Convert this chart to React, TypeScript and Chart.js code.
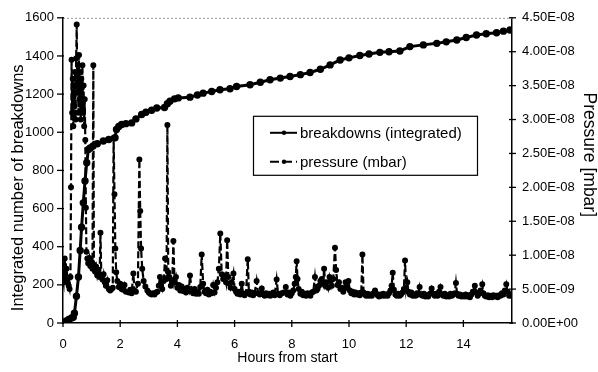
import { useEffect, useRef } from "react";
import { Chart, registerables } from "chart.js";

Chart.register(...registerables);

// Integrated number of breakdowns (left axis)
const breakdownHours = [0, 0.1, 0.2, 0.3, 0.36, 0.4, 0.47, 0.54, 0.6, 0.65, 0.71, 0.77, 0.83, 0.89, 0.95, 1.05, 1.2, 1.41, 1.6, 1.82, 1.87, 1.95, 2.05, 2.2, 2.4, 2.55, 2.75, 2.9, 3.1, 3.28, 3.55, 3.65, 3.74, 3.9, 4.03, 4.44, 4.7, 4.9, 5.2, 5.49, 5.84, 6.07, 6.54, 6.9, 7.24, 7.6, 7.94, 8.3, 8.64, 9.0, 9.34, 9.69, 10.0, 10.38, 10.7, 11.08, 11.4, 11.78, 12.13, 12.6, 13.07, 13.4, 13.77, 14.1, 14.46, 14.8, 15.16, 15.4, 15.63];
const breakdownCounts = [0, 10, 18, 26, 30, 51, 140, 241, 380, 502, 630, 745, 840, 910, 918, 928, 940, 954, 962, 971, 1015, 1030, 1041, 1045, 1049, 1070, 1093, 1105, 1115, 1127, 1130, 1150, 1163, 1175, 1180, 1184, 1195, 1205, 1214, 1223, 1228, 1240, 1249, 1262, 1275, 1284, 1292, 1302, 1313, 1330, 1353, 1379, 1390, 1402, 1410, 1419, 1422, 1426, 1449, 1458, 1466, 1474, 1484, 1497, 1510, 1516, 1522, 1530, 1536];

// Pressure (right axis), values in units of 1E-09 mbar
const pressureHours = [
  0, 0.02, 0.04, 0.06, 0.08, 0.1, 0.12, 0.14, 0.17, 0.2, 0.23, 0.26, 0.28, 0.3, 0.32, 0.34, 0.36, 0.38, 0.4, 0.42,
  0.44, 0.46, 0.48, 0.5, 0.52, 0.54, 0.56, 0.58, 0.6, 0.62, 0.64, 0.66, 0.68, 0.7, 0.72, 0.74, 0.76, 0.78, 0.8, 0.82,
  0.85, 0.88, 0.92, 0.96, 1.0, 1.03, 1.06, 1.08, 1.12, 1.16, 1.2, 1.24, 1.28, 1.31, 1.34, 1.38, 1.42, 1.46, 1.5, 1.55,
  1.6, 1.65, 1.7, 1.74, 1.77, 1.8, 1.83, 1.86, 1.9, 1.95, 2.0, 2.05, 2.1, 2.15, 2.2, 2.3, 2.35, 2.4, 2.46, 2.5,
  2.55, 2.62, 2.67, 2.7, 2.73, 2.77, 2.82, 2.88, 2.95, 3.0, 3.05, 3.1, 3.15, 3.2, 3.25, 3.3, 3.35, 3.39, 3.43, 3.47,
  3.52, 3.57, 3.62, 3.65, 3.68, 3.72, 3.77, 3.82, 3.86, 3.9, 3.95, 4.0, 4.05, 4.1, 4.15, 4.2, 4.25, 4.3, 4.35, 4.4,
  4.44, 4.5, 4.55, 4.6, 4.65, 4.7, 4.75, 4.8, 4.85, 4.9, 4.95, 5.0, 5.05, 5.1, 5.15, 5.2, 5.25, 5.3, 5.35, 5.4,
  5.45, 5.5, 5.55, 5.6, 5.65, 5.7, 5.74, 5.78, 5.82, 5.86, 5.9, 5.96, 6.0, 6.05, 6.1, 6.15, 6.2, 6.25, 6.3, 6.35,
  6.4, 6.46, 6.5, 6.55, 6.6, 6.65, 6.7, 6.77, 6.82, 6.88, 6.95, 7.0, 7.05, 7.1, 7.15, 7.2, 7.25, 7.3, 7.35, 7.4,
  7.47, 7.52, 7.58, 7.65, 7.72, 7.79, 7.85, 7.9, 7.95, 8.0, 8.05, 8.1, 8.14, 8.17, 8.2, 8.24, 8.3, 8.35, 8.4, 8.45,
  8.5, 8.55, 8.6, 8.65, 8.7, 8.75, 8.81, 8.86, 8.9, 8.95, 9.0, 9.05, 9.1, 9.13, 9.17, 9.22, 9.27, 9.32, 9.36, 9.4,
  9.45, 9.51, 9.55, 9.6, 9.65, 9.7, 9.75, 9.8, 9.88, 9.93, 9.98, 10.03, 10.08, 10.13, 10.18, 10.23, 10.28, 10.33, 10.38, 10.43,
  10.47, 10.51, 10.56, 10.6, 10.65, 10.7, 10.75, 10.8, 10.86, 10.91, 10.96, 11.0, 11.05, 11.1, 11.15, 11.2, 11.25, 11.3, 11.35, 11.4,
  11.45, 11.49, 11.53, 11.57, 11.62, 11.67, 11.72, 11.77, 11.82, 11.87, 11.92, 11.96, 12.0, 12.04, 12.08, 12.13, 12.18, 12.23, 12.28, 12.33,
  12.38, 12.42, 12.47, 12.52, 12.57, 12.62, 12.67, 12.72, 12.77, 12.83, 12.89, 12.94, 13.0, 13.05, 13.1, 13.15, 13.2, 13.25, 13.3, 13.35,
  13.4, 13.45, 13.5, 13.55, 13.6, 13.65, 13.7, 13.74, 13.78, 13.83, 13.88, 13.93, 13.98, 14.03, 14.08, 14.13, 14.18, 14.23, 14.28, 14.33,
  14.4, 14.45, 14.5, 14.55, 14.6, 14.66, 14.7, 14.75, 14.8, 14.85, 14.9, 14.95, 15.0, 15.05, 15.1, 15.15, 15.2, 15.25, 15.3, 15.35,
  15.4, 15.45, 15.5, 15.55, 15.6, 15.65, 15.7,
];
const pressureNano = [
  6.5, 6.0, 8.5, 9.5, 7.2, 6.3, 8.0, 6.4, 5.9, 5.5, 5.0, 6.8, 20, 38.8, 31, 36, 29, 35, 32, 37,
  30, 39, 44, 34, 38, 31, 39.5, 33, 37, 30, 36, 32, 38, 31, 35, 29, 33, 27, 17, 10.5,
  9.5, 8.8, 9.6, 8.4, 9.0, 8.0, 38, 8.6, 7.6, 8.3, 7.0, 7.8, 6.8, 13.3, 7.0, 6.4, 7.2, 6.0, 5.5, 6.3,
  5.0, 4.8, 5.0, 5.2, 27.3, 19, 11, 7.5, 6.2, 5.3, 5.8, 5.0, 4.9, 5.6, 4.6, 4.5, 4.9, 4.4, 7.3, 4.8,
  4.6, 5.8, 24.1, 16.5, 11, 8, 6.2, 5.4, 4.8, 4.5, 4.3, 4.2, 4.4, 4.2, 4.5, 4.6, 5.5, 6.8, 5.5, 5.0,
  6.2, 9.5, 6.5, 29.2, 7.5, 6.8, 5.5, 6.0, 12.1, 6.0, 6.8, 5.2, 5.6, 4.8, 5.4, 4.7, 5.0, 4.5, 5.2, 4.7,
  7.0, 4.8, 4.4, 5.0, 4.3, 4.6, 4.3, 5.3, 10.1, 5.8, 4.6, 4.4, 4.9, 4.2, 4.6, 4.4, 5.6, 4.5, 5.2, 6.0,
  8.0, 13.2, 7.2, 6.5, 7.0, 6.0, 12.2, 6.8, 5.8, 5.2, 6.0, 7.3, 5.0, 4.6, 4.3, 4.6, 4.2, 5.8, 4.3, 4.1,
  4.4, 9.4, 4.6, 4.2, 4.5, 4.1, 4.4, 6.2, 4.4, 4.2, 5.1, 4.3, 4.0, 4.4, 4.1, 4.3, 4.0, 4.2, 4.5, 4.1,
  6.4, 4.3, 4.1, 4.4, 4.5, 5.3, 4.2, 4.5, 4.0, 4.4, 4.8, 5.8, 6.8, 9.1, 6.5, 5.0, 4.3, 4.6, 4.1, 4.3,
  4.0, 4.4, 4.2, 4.0, 4.5, 4.6, 6.8, 4.8, 5.0, 5.5, 6.2, 6.5, 5.8, 8.0, 5.5, 6.0, 5.2, 6.8, 6.2, 5.5,
  6.5, 11.1, 7.8, 5.6, 6.0, 5.0, 5.2, 4.6, 6.0, 5.2, 6.2, 4.8, 4.4, 4.6, 4.2, 4.5, 4.2, 4.4, 4.1, 4.5,
  10.1, 4.5, 4.2, 4.0, 4.3, 4.0, 4.2, 4.0, 4.4, 4.8, 4.3, 4.1, 3.9, 4.2, 4.0, 4.3, 4.0, 4.2, 4.0, 4.4,
  4.8, 5.5, 7.4, 4.9, 4.2, 4.0, 4.3, 4.0, 4.2, 4.5, 5.0, 9.2, 5.0, 6.0, 4.6, 4.2, 4.5, 4.0, 4.2, 4.0,
  4.4, 4.2, 5.3, 4.2, 4.0, 4.3, 3.9, 4.1, 3.9, 4.3, 5.1, 4.3, 4.0, 4.3, 4.0, 4.6, 5.3, 4.2, 4.0, 4.3,
  3.9, 4.1, 3.9, 4.3, 4.0, 4.2, 4.4, 5.9, 4.3, 4.0, 4.2, 3.9, 4.1, 3.9, 4.2, 3.9, 4.1, 3.8, 4.2, 4.6,
  5.5, 4.5, 4.0, 4.3, 4.8, 5.7, 4.4, 4.0, 3.9, 4.1, 3.8, 4.0, 3.8, 4.1, 3.9, 4.0, 3.8, 4.1, 4.0, 4.4,
  4.2, 4.8, 5.7, 4.6, 4.0, 4.2, 4.0,
];

const seriesLabels = ["breakdowns (integrated)", "pressure (mbar)"];
const xTitle = "Hours from start";
const leftTitle = "Integrated number of breakdowns";
const rightTitle = "Pressure [mbar]";

function sci(nano: number): string {
  if (nano === 0) return "0.00E+00";
  const s = (nano * 1e-9).toExponential(2);
  const [m, e] = s.split("e");
  const n = parseInt(e, 10);
  const sign = n < 0 ? "-" : "+";
  const abs = Math.abs(n);
  return m + "E" + sign + (abs < 10 ? "0" + abs : String(abs));
}

function pairs(xs: number[], ys: number[]) {
  const n = Math.min(xs.length, ys.length);
  const out: { x: number; y: number }[] = [];
  for (let i = 0; i < n; i++) out.push({ x: xs[i], y: ys[i] });
  return out;
}

export default function App() {
  const ref = useRef<HTMLCanvasElement>(null);

  useEffect(() => {
    document.body.style.margin = "0";
    const family = "'Liberation Sans', Arial, Helvetica, sans-serif";
    Chart.defaults.font.family = family;
    Chart.defaults.color = "#000";

    const decor = {
      id: "decor",
      afterDraw(chart: any) {
        const { ctx, chartArea: a, scales } = chart;
        ctx.save();
        // top plot-area border (faint dotted)
        ctx.strokeStyle = "#9a9a9a";
        ctx.lineWidth = 1;
        ctx.setLineDash([2, 2]);
        ctx.beginPath();
        ctx.moveTo(a.left, a.top + 0.5);
        ctx.lineTo(a.right, a.top + 0.5);
        ctx.stroke();
        ctx.setLineDash([]);
        // tick marks
        ctx.strokeStyle = "#000";
        ctx.lineWidth = 1.3;
        const seg = (x1: number, y1: number, x2: number, y2: number) => {
          ctx.beginPath();
          ctx.moveTo(x1, y1);
          ctx.lineTo(x2, y2);
          ctx.stroke();
        };
        scales.x.ticks.forEach((t: any) => {
          const px = scales.x.getPixelForValue(t.value);
          seg(px, a.bottom - 3, px, a.bottom + 4);
        });
        scales.y.ticks.forEach((t: any) => {
          const py = scales.y.getPixelForValue(t.value);
          seg(a.left - 6, py, a.left + 1, py);
        });
        scales.y1.ticks.forEach((t: any) => {
          const py = scales.y1.getPixelForValue(t.value);
          seg(a.right - 3, py, a.right + 4, py);
        });
        // vertical axis titles
        ctx.fillStyle = "#000";
        ctx.textAlign = "center";
        ctx.textBaseline = "middle";
        ctx.save();
        ctx.translate(18, a.top + 170);
        ctx.rotate(-Math.PI / 2);
        ctx.font = "16.5px " + family;
        ctx.fillText(leftTitle, 0, 0);
        ctx.restore();
        ctx.save();
        ctx.translate(589, a.top + 137);
        ctx.rotate(Math.PI / 2);
        ctx.font = "17.5px " + family;
        ctx.fillText(rightTitle, 0, 0);
        ctx.restore();
        // legend box
        const bx = a.left + 190;
        const by = a.top + 98;
        const bw = 224;
        const bh = 59;
        ctx.fillStyle = "#fff";
        ctx.fillRect(bx, by, bw, bh);
        ctx.strokeStyle = "#000";
        ctx.lineWidth = 1.2;
        ctx.strokeRect(bx + 0.5, by + 0.5, bw, bh);
        ctx.font = "15px " + family;
        ctx.fillStyle = "#000";
        ctx.textBaseline = "middle";
        ctx.textAlign = "left";
        const rows = [by + 17, by + 46];
        rows.forEach((ry, i) => {
          ctx.lineWidth = 2;
          if (i === 1) ctx.setLineDash([9, 4]);
          seg(bx + 17, ry, bx + 44, ry);
          ctx.setLineDash([]);
          ctx.beginPath();
          ctx.arc(bx + 31, ry, 2.2, 0, Math.PI * 2);
          ctx.fill();
          ctx.fillText(seriesLabels[i], bx + 47, ry + 1);
        });
        ctx.restore();
      },
    };

    const chart = new Chart(ref.current!, {
      type: "line",
      data: {
        datasets: [
          {
            label: seriesLabels[0],
            data: pairs(breakdownHours, breakdownCounts),
            yAxisID: "y",
            borderColor: "#000",
            backgroundColor: "#000",
            borderWidth: 3,
            pointRadius: 2.2,
            pointStyle: "circle",
            tension: 0,
          },
          {
            label: seriesLabels[1],
            data: pairs(pressureHours, pressureNano),
            yAxisID: "y1",
            borderColor: "#000",
            backgroundColor: "#000",
            borderWidth: 2.2,
            borderDash: [7, 3],
            pointRadius: 1.9,
            tension: 0,
          },
        ],
      },
      options: {
        animation: false,
        responsive: true,
        maintainAspectRatio: false,
        parsing: false,
        layout: { padding: { top: 15, left: 0, right: 0, bottom: 0 } },
        plugins: { legend: { display: false }, tooltip: { enabled: false } },
        scales: {
          x: {
            type: "linear",
            min: 0,
            max: 15.7,
            grid: { display: false, drawTicks: false },
            border: { display: true, color: "#000", width: 1.5 },
            ticks: { stepSize: 2, includeBounds: false, padding: 14, font: { size: 13 }, maxRotation: 0, callback: (v: any) => String(v) },
            title: { display: true, text: xTitle, font: { size: 14 }, padding: { top: 0, bottom: 5 } },
            afterFit: (s: any) => { s.height = 49; },
          },
          y: {
            type: "linear",
            position: "left",
            min: 0,
            max: 1600,
            grid: { display: false, drawTicks: false },
            border: { display: true, color: "#000", width: 1.5 },
            ticks: { stepSize: 200, padding: 9, font: { size: 13 }, callback: (v: any) => String(v) },
            afterFit: (s: any) => { s.width = 63; },
          },
          y1: {
            type: "linear",
            position: "right",
            min: 0,
            max: 45,
            grid: { display: false, drawTicks: false },
            border: { display: true, color: "#000", width: 1.5 },
            ticks: { stepSize: 5, padding: 10, font: { size: 13 }, callback: (v: any) => sci(Number(v)) },
            afterFit: (s: any) => { s.width = 86; },
          },
        },
      },
      plugins: [decor],
    });
    return () => chart.destroy();
  }, []);

  return (
    <div style={{ width: 598, height: 372, position: "relative", background: "#fff" }}>
      <canvas ref={ref} />
    </div>
  );
}
